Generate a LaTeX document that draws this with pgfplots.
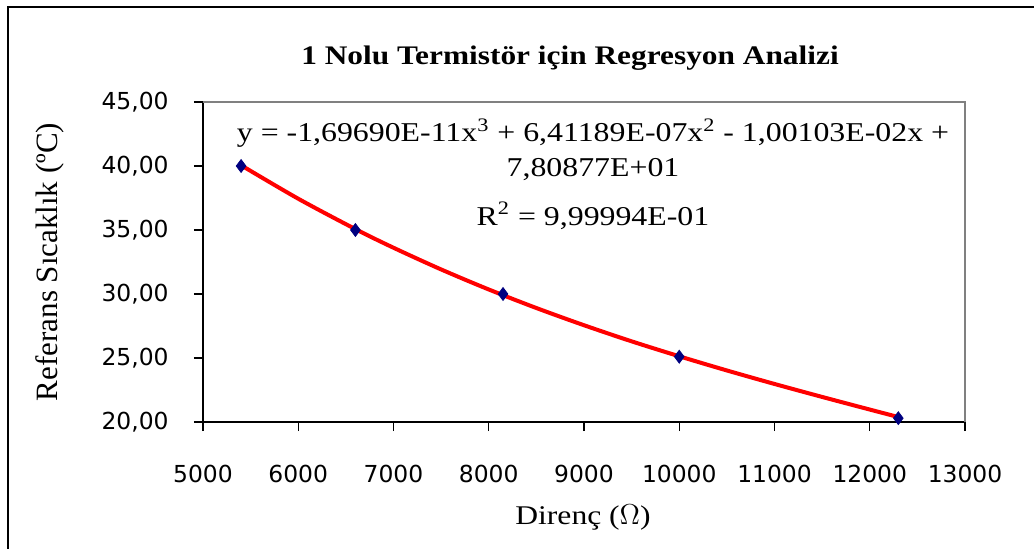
\documentclass[border=0pt]{standalone}
\usepackage{fontspec}
\setmainfont{Liberation Serif}[FakeStretch=1.17]
\newfontfamily\plainserif{Liberation Serif}
\newfontfamily\tickfont{DejaVu Sans}
\usepackage{pgfplots}
\pgfplotsset{compat=1.18}
\definecolor{navyblue}{RGB}{0,0,128}
\begin{document}
\begin{tikzpicture}
\useasboundingbox (0,0) rectangle (517pt,274pt);
\fill[white] (0,0) rectangle (517pt,274pt);
\draw[line width=1.2pt] (4pt,-2pt) -- (4pt,270.5pt) -- (520pt,270.5pt);
\begin{axis}[
  at={(101.5pt,63pt)}, anchor=south west,
  scale only axis, width=381pt, height=160pt,
  xmin=5000, xmax=13000, ymin=20, ymax=45,
  scaled x ticks=false, scaled y ticks=false,
  axis x line*=bottom, axis y line*=left,
  axis line style={black, line width=0.6pt, -},
  xtick={5000,6000,...,13000},
  xticklabels={5000,6000,7000,8000,9000,10000,11000,12000,13000},
  ytick={20,25,30,35,40,45},
  yticklabels={{20,00},{25,00},{30,00},{35,00},{40,00},{45,00}},
  tick align=outside, major tick length=4.5pt,
  tick style={black, line width=0.6pt},
  xticklabel style={font=\tickfont\fontsize{11.7}{13}\selectfont, anchor=center, inner sep=0pt, yshift=-21.5pt},
  yticklabel style={font=\tickfont\fontsize{11.7}{13}\selectfont, anchor=east, inner sep=0pt, xshift=-12.5pt},
  clip=false,
]
\draw[gray, line width=0.8pt] (rel axis cs:0,1) -- (rel axis cs:1,1) -- (rel axis cs:1,0);
\addplot[draw=navyblue, fill=navyblue, only marks, mark=diamond*, mark size=3.2pt] coordinates {
  (5400,40.0) (6600,35.0) (8150,30.0) (10000,25.1) (12300,20.3)
};
\addplot[red, line width=2pt, smooth, no markers] coordinates {
  (5400,40.057) (6000,37.444) (6600,35.071) (7000,33.614) (7500,31.919)
  (8000,30.354) (8500,28.905) (9000,27.561) (9500,26.303) (10000,25.135)
  (10500,24.027) (11000,22.972) (11500,21.959) (12000,20.973) (12300,20.389)
};
\end{axis}
\node[font=\bfseries\fontsize{13.4}{15}\selectfont] at (285pt,245pt) {1 Nolu Termistör için Regresyon Analizi};
\node[font=\fontsize{13.6}{15}\selectfont] at (296.5pt,207.5pt) {y = -1,69690E-11x\textsuperscript{3} + 6,41189E-07x\textsuperscript{2} - 1,00103E-02x +};
\node[font=\fontsize{13.6}{15}\selectfont] at (296.5pt,189pt) {7,80877E+01};
\node[font=\fontsize{13.6}{15}\selectfont] at (296.5pt,166pt) {R\textsuperscript{2} = 9,99994E-01};
\node[font=\fontsize{13.5}{15}\selectfont] at (291.5pt,15pt) {Direnç (\(\Omega\))};
\node[font=\plainserif\fontsize{15.5}{17}\selectfont, rotate=90] at (25pt,143pt) {Referans Sıcaklık (ºC)};
\end{tikzpicture}
\end{document}
